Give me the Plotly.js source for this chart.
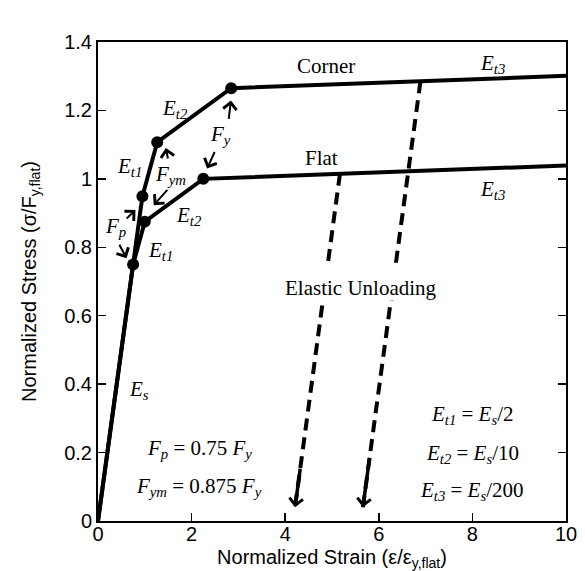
<!DOCTYPE html>
<html>
<head>
<meta charset="utf-8">
<script src="https://cdn.plot.ly/plotly-3.0.1.min.js"></script>
<style>html,body{margin:0;padding:0;background:#fff;}#chart{width:585px;height:571px;}</style>
</head>
<body>
<div id="chart"></div>
<script>
// ---- data ----
const flatStrain   = [0, 0.75, 1.0, 2.25, 10];
const flatStress   = [0, 0.75, 0.875, 1.0, 1.039];
const cornerStrain = [0, 0.949, 1.265, 2.846, 10];
const cornerStress = [0, 0.949, 1.107, 1.265, 1.301];
const unloadFlatStrain   = [5.17, 4.21];
const unloadFlatStress   = [1.015, 0.04];
const unloadCornerStrain = [6.89, 5.66];
const unloadCornerStress = [1.285, 0.04];
const xTickVals = [0, 2, 4, 6, 8, 10];
const yTickVals = [0, 0.2, 0.4, 0.6, 0.8, 1.0, 1.2, 1.4];

const serif = 'Liberation Serif, Times New Roman, serif';
const sans = 'Liberation Sans, Arial, sans-serif';

const curve = (x, y) => ({x, y, mode: 'lines', type: 'scatter', line: {color: '#000', width: 4}, hoverinfo: 'skip', showlegend: false});
const dots = (x, y) => ({x: x.slice(1, 4), y: y.slice(1, 4), mode: 'markers', type: 'scatter', marker: {color: '#000', size: 12}, hoverinfo: 'skip', showlegend: false});
const dashed = (x, y) => ({x, y, mode: 'lines', type: 'scatter', line: {color: '#000', width: 4, dash: '12px,7px'}, hoverinfo: 'skip', showlegend: false});

const traces = [
  curve(flatStrain, flatStress),
  curve(cornerStrain, cornerStress),
  dots(flatStrain, flatStress),
  dots(cornerStrain, cornerStress),
  dashed(unloadFlatStrain, unloadFlatStress),
  dashed(unloadCornerStrain, unloadCornerStress)
];

const lbl = (text, x, y, extra) => Object.assign({text, x, y, xref: 'x', yref: 'y', showarrow: false, font: {family: serif, size: 21, color: '#000'}}, extra || {});
const arr = (tx, ty, hx, hy, w, s) => ({text: '', x: hx, y: hy, ax: tx, ay: ty, xref: 'x', yref: 'y', axref: 'x', ayref: 'y', showarrow: true, arrowhead: 4, arrowwidth: w || 2, arrowsize: s || 1.3, arrowcolor: '#000', standoff: 0});
const tipArrow = (xs, ys) => {
  const f = 0.12;
  return arr(xs[1] + (xs[0] - xs[1]) * f, ys[1] + (ys[0] - ys[1]) * f, xs[1], ys[1], 3.5, 0.75);
};

const annotations = [
  lbl('Corner', 4.87, 1.33),
  lbl('Flat', 4.77, 1.06),
  lbl('<i>E<sub>t3</sub></i>', 8.43, 1.335),
  lbl('<i>E<sub>t3</sub></i>', 8.43, 0.968),
  lbl('<i>E<sub>t2</sub></i>', 1.65, 1.205),
  lbl('<i>E<sub>t2</sub></i>', 1.94, 0.89),
  lbl('<i>E<sub>t1</sub></i>', 0.68, 1.035),
  lbl('<i>E<sub>t1</sub></i>', 1.33, 0.79),
  lbl('<i>E<sub>s</sub></i>', 0.88, 0.384),
  lbl('<i>F<sub>y</sub></i>', 2.61, 1.127),
  lbl('<i>F<sub>ym</sub></i>', 1.55, 1.011),
  lbl('<i>F<sub>p</sub></i>', 0.37, 0.86),
  lbl('<i>F<sub>p</sub></i> = 0.75 <i>F<sub>y</sub></i>', 2.16, 0.21),
  lbl('<i>F<sub>ym</sub></i> = 0.875 <i>F<sub>y</sub></i>', 2.16, 0.10),
  lbl('<i>E<sub>t1</sub></i> = <i>E<sub>s</sub></i>/2', 8.0, 0.31),
  lbl('<i>E<sub>t2</sub></i> = <i>E<sub>s</sub></i>/10', 8.0, 0.195),
  lbl('<i>E<sub>t3</sub></i> = <i>E<sub>s</sub></i>/200', 8.0, 0.088),
  lbl('Elastic Unloading', 5.62, 0.68),
  arr(2.79, 1.171, 2.84, 1.229),
  arr(2.507, 1.083, 2.33, 1.03),
  arr(1.50, 1.055, 1.45, 1.09),
  arr(1.51, 0.972, 1.19, 0.923),
  arr(0.58, 0.88, 0.80, 0.909),
  arr(0.44, 0.812, 0.61, 0.768),
  tipArrow(unloadFlatStrain, unloadFlatStress),
  tipArrow(unloadCornerStrain, unloadCornerStress)
];

const layout = {
  width: 585, height: 571,
  margin: {l: 98, r: 19, t: 42, b: 50},
  paper_bgcolor: '#fff', plot_bgcolor: '#fff',
  showlegend: false,
  font: {family: sans, size: 20, color: '#000'},
  xaxis: {
    range: [0, 10], tickvals: xTickVals, ticks: 'inside', ticklen: 8, tickwidth: 1.5, tickcolor: '#000',
    showline: true, linecolor: '#000', linewidth: 2, mirror: true, showgrid: false, zeroline: false,
    tickfont: {family: sans, size: 20}, ticklabelstandoff: -6,
    title: {text: 'Normalized Strain (ε/ε<sub>y,flat</sub>)', font: {family: sans, size: 20}, standoff: 13}
  },
  yaxis: {
    range: [0, 1.4], tickvals: yTickVals, ticks: 'inside', ticklen: 8, tickwidth: 1.5, tickcolor: '#000',
    showline: true, linecolor: '#000', linewidth: 2, mirror: 'ticks', showgrid: false, zeroline: false,
    tickfont: {family: sans, size: 20},
    title: {text: 'Normalized Stress (σ/F<sub>y,flat</sub>)', font: {family: sans, size: 20}, standoff: 22}
  },
  shapes: [
    {type: 'rect', xref: 'x', yref: 'y', x0: 4.3, x1: 6.9, y0: 0.645, y1: 0.75, fillcolor: '#fff', line: {width: 0}, layer: 'above'}
  ],
  annotations
};

Plotly.newPlot('chart', traces, layout, {displayModeBar: false, staticPlot: true});
</script>
</body>
</html>
